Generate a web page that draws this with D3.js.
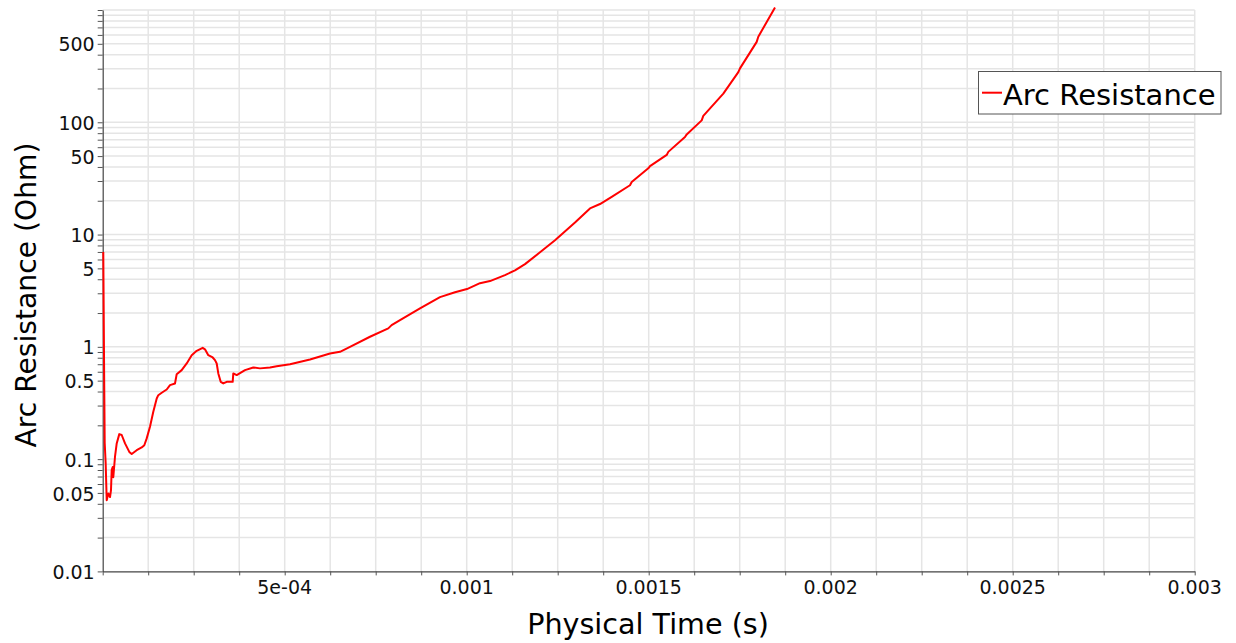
<!DOCTYPE html>
<html>
<head>
<meta charset="utf-8">
<script src="https://cdn.jsdelivr.net/npm/d3@7/dist/d3.min.js"></script>
<style>
  html, body { margin: 0; padding: 0; background: #ffffff; }
  svg { display: block; font-family: "DejaVu Sans", sans-serif; }
</style>
</head>
<body>
<svg id="chart" width="1236" height="643"></svg>
<script>
// ---- Data ----
const seriesName = "Arc Resistance";
const timeValues = [
  1.6e-6, 4.1e-6, 5.5e-6, 8.2e-6, 11.0e-6, 15.4e-6, 20.1e-6, 22.8e-6, 24.7e-6, 27.5e-6,
  29.1e-6, 33.8e-6, 38.5e-6, 45.6e-6, 52.2e-6, 61.3e-6, 73.1e-6, 79.7e-6, 93.4e-6, 107.1e-6,
  114.3e-6, 120.9e-6, 129.9e-6, 139.0e-6, 148.4e-6, 152.7e-6, 162.1e-6, 175.8e-6, 184.9e-6, 198.6e-6,
  203.3e-6, 217.0e-6, 230.8e-6, 244.5e-6, 258.2e-6, 274.7e-6, 281.0e-6, 290.1e-6, 302.2e-6, 308.5e-6,
  313.2e-6, 317.6e-6, 324.2e-6, 331.3e-6, 340.7e-6, 349.7e-6, 357.1e-6, 358.8e-6, 368.1e-6, 390.9e-6,
  413.7e-6, 432.1e-6, 459.6e-6, 478.0e-6, 514.6e-6, 569.5e-6, 624.5e-6, 651.9e-6, 679.4e-6, 734.3e-6,
  784.6e-6, 793.7e-6, 816.8e-6, 871.7e-6, 926.6e-6, 967.9e-6, 1000.8e-6, 1036.5e-6, 1064.0e-6, 1105.2e-6,
  1132.7e-6, 1160.2e-6, 1201.4e-6, 1242.6e-6, 1297.5e-6, 1338.7e-6, 1366.2e-6, 1398.4e-6, 1448.6e-6, 1453.3e-6,
  1498.9e-6, 1503.6e-6, 1549.5e-6, 1553.8e-6, 1599.7e-6, 1604.4e-6, 1645.6e-6, 1650.0e-6, 1705.0e-6, 1746.2e-6,
  1750.8e-6, 1796.7e-6, 1801.1e-6, 1847.0e-6
];
const resistanceValues = [
  7.0, 0.5, 0.139, 0.091, 0.043, 0.0495, 0.046, 0.053, 0.08, 0.085,
  0.069, 0.105, 0.138, 0.167, 0.164, 0.138, 0.116, 0.111, 0.12, 0.127,
  0.133, 0.153, 0.194, 0.264, 0.347, 0.371, 0.39, 0.417, 0.456, 0.472,
  0.571, 0.62, 0.711, 0.843, 0.921, 0.98, 0.95, 0.843, 0.804, 0.761,
  0.711, 0.58, 0.488, 0.472, 0.488, 0.488, 0.488, 0.58, 0.56, 0.62,
  0.655, 0.643, 0.655, 0.673, 0.701, 0.772, 0.873, 0.903, 1.0, 1.23,
  1.46, 1.56, 1.73, 2.2, 2.77, 3.06, 3.27, 3.69, 3.85, 4.35,
  4.8, 5.45, 6.95, 8.9, 12.8, 17.1, 18.7, 21.7, 27.5, 29.4,
  38.9, 40.7, 51.2, 54.5, 74, 78, 104, 114, 180, 280,
  302, 520, 577, 1050
];
const xTickValues = [0.0005, 0.001, 0.0015, 0.002, 0.0025, 0.003];
const xTickLabels = ["5e-04", "0.001", "0.0015", "0.002", "0.0025", "0.003"];
const yTickValues = [0.01, 0.05, 0.1, 0.5, 1, 5, 10, 50, 100, 500];
const yTickLabels = ["0.01", "0.05", "0.1", "0.5", "1", "5", "10", "50", "100", "500"];
const xTitle = "Physical Time (s)";
const yTitle = "Arc Resistance (Ohm)";

// ---- Layout ----
const plotLeft = 102.7, plotRight = 1194.7, plotTop = 10, plotBottom = 571.4;
const svg = d3.select("#chart");

const x = d3.scaleLinear().domain([0, 0.003]).range([plotLeft, plotRight]);
const y = d3.scaleLog().domain([0.01, 1000]).range([plotBottom, plotTop]);

// minor positions
const xMinor = d3.range(0, 24 + 1).map(i => i * 0.000125);
const yMinor = [];
for (let k = -2; k <= 2; k++) for (let m = 1; m <= 9; m++) yMinor.push(m * Math.pow(10, k));
yMinor.push(1000);

// grid
const grid = svg.append("g").attr("stroke", "#e5e5e5").attr("stroke-width", 1.5);
grid.selectAll("line.v").data(xMinor.filter(d => d > 0)).join("line")
  .attr("x1", d => x(d)).attr("x2", d => x(d))
  .attr("y1", plotTop).attr("y2", plotBottom);
grid.selectAll("line.h").data(yMinor.filter(d => d > 0.01)).join("line")
  .attr("x1", plotLeft).attr("x2", plotRight)
  .attr("y1", d => y(d)).attr("y2", d => y(d));

// axes
const xAxisG = svg.append("g").attr("transform", `translate(0,${plotBottom})`)
  .call(d3.axisBottom(x).tickValues(xMinor).tickSize(4).tickSizeOuter(0).tickFormat(""));
xAxisG.select(".domain").attr("stroke", "#444").attr("stroke-width", 1.2);
xAxisG.selectAll(".tick line").attr("stroke", "#555");

const yAxisG = svg.append("g").attr("transform", `translate(${plotLeft},0)`)
  .call(d3.axisLeft(y).tickValues(yMinor).tickSize(5).tickSizeOuter(0).tickFormat(""));
yAxisG.select(".domain").attr("stroke", "#444").attr("stroke-width", 1.2);
yAxisG.selectAll(".tick line").attr("stroke", "#555");

// tick labels
svg.append("g").selectAll("text").data(xTickValues).join("text")
  .attr("x", d => x(d)).attr("y", plotBottom + 22.6)
  .attr("text-anchor", "middle").attr("font-size", 19).attr("fill", "#111")
  .text((d, i) => xTickLabels[i]);
svg.append("g").selectAll("text").data(yTickValues).join("text")
  .attr("x", plotLeft - 8).attr("y", d => y(d)).attr("dy", "0.4em")
  .attr("text-anchor", "end").attr("font-size", 19).attr("fill", "#111")
  .text((d, i) => yTickLabels[i]);

// titles
svg.append("text").attr("x", 648).attr("y", 634).attr("text-anchor", "middle")
  .attr("font-size", 28.6).attr("fill", "#000").text(xTitle);
svg.append("text").attr("transform", "translate(36,295) rotate(-90)")
  .attr("text-anchor", "middle").attr("font-size", 28.2).attr("fill", "#000").text(yTitle);

// series line
const data = timeValues.map((t, i) => ({ t, r: resistanceValues[i] }));
svg.append("path").datum(data)
  .attr("fill", "none").attr("stroke", "#ff0000").attr("stroke-width", 2)
  .attr("stroke-linejoin", "round")
  .attr("d", d3.line().x(d => x(d.t)).y(d => y(d.r)));

// legend
const lg = svg.append("g");
lg.append("rect").attr("x", 978.5).attr("y", 71.5).attr("width", 242.5).attr("height", 42.5)
  .attr("fill", "#fff").attr("stroke", "#555").attr("stroke-width", 1);
lg.append("line").attr("x1", 982).attr("x2", 1002).attr("y1", 92.7).attr("y2", 92.7)
  .attr("stroke", "#ff0000").attr("stroke-width", 2);
lg.append("text").attr("x", 1003).attr("y", 105).attr("font-size", 29).attr("fill", "#000").text(seriesName);
</script>
</body>
</html>
